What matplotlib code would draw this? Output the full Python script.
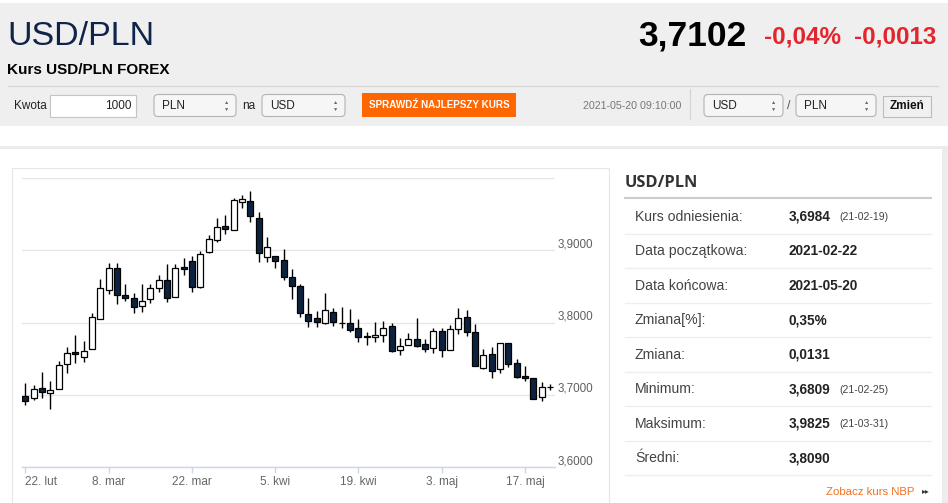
import matplotlib
matplotlib.use("Agg")
import matplotlib.pyplot as plt
import pandas as pd
from matplotlib.patches import Rectangle, FancyBboxPatch

plt.rcParams['font.family'] = ['Liberation Sans', 'DejaVu Sans']

# --- data -------------------------------------------------------------
days = pd.bdate_range('2021-02-22', '2021-05-20')

opens = [3.6983, 3.6951, 3.7089, 3.7024, 3.7084, 3.7421, 3.7587, 3.7518, 3.7637, 3.8053,
         3.8450, 3.8754, 3.8380, 3.8343, 3.8228, 3.8325, 3.8473, 3.8584, 3.8349, 3.8768,
         3.8851, 3.8487, 3.8971, 3.9142, 3.9336, 3.9276, 3.9672, 3.9686, 3.9442, 3.8911,
         3.8920, 3.8865, 3.8634, 3.8501, 3.8113, 3.8058, 3.7989, 3.8150, 3.7998, 3.7998,
         3.7920, 3.7817, 3.7799, 3.7827, 3.7952, 3.7615, 3.7693, 3.7772, 3.7707, 3.7651,
         3.7887, 3.7624, 3.7906, 3.8072, 3.7864, 3.7366, 3.7564, 3.7356, 3.7712, 3.7435,
         3.7264, 3.7228, 3.6965, 3.7108]
highs = [3.7158, 3.7131, 3.7311, 3.7186, 3.7472, 3.7665, 3.7831, 3.7748, 3.8136, 3.8598,
         3.8819, 3.8828, 3.8533, 3.8412, 3.8533, 3.8533, 3.8653, 3.8810, 3.8810, 3.8889,
         3.8920, 3.8990, 3.9207, 3.9446, 3.9488, 3.9719, 3.9765, 3.9825, 3.9534, 3.9179,
         3.8925, 3.9013, 3.8736, 3.8530, 3.8343, 3.8163, 3.8408, 3.8205, 3.8210, 3.8190,
         3.8044, 3.7869, 3.8003, 3.8017, 3.7989, 3.7781, 3.7859, 3.8066, 3.7767, 3.7920,
         3.7920, 3.7965, 3.8197, 3.8173, 3.7979, 3.7629, 3.7665, 3.7720, 3.7720, 3.7495,
         3.7398, 3.7236, 3.7172, 3.7145]
lows = [3.6854, 3.6927, 3.6959, 3.6809, 3.7080, 3.7297, 3.7444, 3.7458, 3.7637, 3.8053,
        3.8390, 3.8252, 3.8302, 3.8136, 3.8150, 3.8265, 3.8427, 3.8288, 3.8349, 3.8657,
        3.8418, 3.8480, 3.8965, 3.9118, 3.9225, 3.9276, 3.9581, 3.9387, 3.8842, 3.8842,
        3.8750, 3.8588, 3.8321, 3.8075, 3.7942, 3.7942, 3.7985, 3.7952, 3.7920, 3.7873,
        3.7726, 3.7689, 3.7734, 3.7734, 3.7596, 3.7550, 3.7690, 3.7657, 3.7596, 3.7582,
        3.7518, 3.7620, 3.7841, 3.7813, 3.7398, 3.7352, 3.7228, 3.7297, 3.7380, 3.7236,
        3.7190, 3.6937, 3.6913, 3.7070]
closes = [3.6909, 3.7084, 3.7034, 3.7062, 3.7408, 3.7582, 3.7560, 3.7601, 3.8072, 3.8473,
          3.8754, 3.8380, 3.8339, 3.8219, 3.8298, 3.8473, 3.8584, 3.8339, 3.8754, 3.8740,
          3.8487, 3.8944, 3.9160, 3.9318, 3.9294, 3.9691, 3.9705, 3.9470, 3.8958, 3.9041,
          3.8851, 3.8634, 3.8509, 3.8127, 3.8025, 3.8003, 3.8177, 3.8003, 3.7989, 3.7896,
          3.7803, 3.7803, 3.7831, 3.7920, 3.7606, 3.7679, 3.7772, 3.7679, 3.7633, 3.7878,
          3.7615, 3.7906, 3.8058, 3.7864, 3.7398, 3.7546, 3.7329, 3.7712, 3.7421, 3.7246,
          3.7228, 3.6945, 3.7111, 3.7102]

tick_dates = ['2021-02-22', '2021-03-08', '2021-03-22', '2021-04-05',
              '2021-04-19', '2021-05-03', '2021-05-17']
tick_labels = ['22. lut', '8. mar', '22. mar', '5. kwi', '19. kwi', '3. maj', '17. maj']
y_ticks = [3.6, 3.7, 3.8, 3.9, 4.0]
y_labels = ['3,6000', '3,7000', '3,8000', '3,9000', '']

row_labels = ['Kurs odniesienia:', 'Data początkowa:', 'Data końcowa:', 'Zmiana[%]:',
              'Zmiana:', 'Minimum:', 'Maksimum:', 'Średni:']
row_values = ['3,6984', '2021-02-22', '2021-05-20', '0,35%', '0,0131',
              '3,6809', '3,9825', '3,8090']
row_notes = ['(21-02-19)', '', '', '', '', '(21-02-25)', '(21-03-31)', '']

DARK = '#0c2340'
NAVY = '#10244a'

fig = plt.figure(figsize=(9.48, 5.03), dpi=100)

# page background, pixel coordinates
bg = fig.add_axes([0, 0, 1, 1])
bg.set_xlim(0, 948)
bg.set_ylim(503, 0)
bg.axis('off')

bg.add_patch(Rectangle((0, 3), 948, 123, facecolor='#efefef', edgecolor='none'))
bg.add_patch(Rectangle((0, 146), 948, 3, facecolor='#ececec', edgecolor='none'))
bg.add_patch(Rectangle((942, 146), 6, 357, facecolor='#ececec', edgecolor='none'))
bg.plot([8, 938], [85.5, 85.5], color='#d6d6d6', lw=0.9)

bg.text(7, 45, 'USD/PLN', fontsize=24.5, color=NAVY, va='baseline')
bg.text(746, 45, '3,7102', fontsize=25.5, fontweight='bold', color='black', va='baseline', ha='right')
bg.text(764, 43.5, '-0,04%', fontsize=17.5, fontweight='bold', color='#e3262d', va='baseline')
bg.text(936, 43.5, '-0,0013', fontsize=17.5, fontweight='bold', color='#e3262d', va='baseline', ha='right')
bg.text(7, 74, 'Kurs USD/PLN FOREX', fontsize=11, fontweight='bold', color='black', va='baseline')

# controls row
bg.text(14, 105.5, 'Kwota', fontsize=8.5, color='#222222', va='center')
bg.add_patch(Rectangle((50.5, 94.5), 86, 22, facecolor='white', edgecolor='#c4c4c4', lw=0.8))
bg.text(132, 105.5, '1000', fontsize=8.5, color='#222222', va='center', ha='right')


def select(x, w, label):
    bg.add_patch(FancyBboxPatch((x, 94.5), w, 22, boxstyle='round,pad=0,rounding_size=4',
                                facecolor='#f6f6f6', edgecolor='#b3b3b3', lw=0.8))
    bg.text(x + 8, 105.5, label, fontsize=8.5, color='#222222', va='center')
    bg.text(x + w - 9, 102, '▲', fontsize=3.8, color='#666666', va='center', ha='center')
    bg.text(x + w - 9, 109, '▼', fontsize=3.8, color='#666666', va='center', ha='center')


select(154, 82, 'PLN')
bg.text(242, 105.5, 'na', fontsize=8.5, color='#222222', va='center')
select(262, 83, 'USD')
bg.add_patch(Rectangle((362, 93), 154, 24, facecolor='#ff6600', edgecolor='none'))
bg.text(439, 105, 'SPRAWDŹ NAJLEPSZY KURS', fontsize=7.1, fontweight='bold', color='white',
        va='center', ha='center')
bg.text(681, 106, '2021-05-20 09:10:00', fontsize=7.7, color='#777777', va='center', ha='right')
bg.plot([690.5, 690.5], [89, 119], color='#d2d2d2', lw=0.8)
select(704, 79, 'USD')
bg.text(789, 105.5, '/', fontsize=9, color='#555555', va='center', ha='center')
select(796, 80, 'PLN')
bg.add_patch(Rectangle((883.5, 95.5), 48, 21, facecolor='#f0f0f0', edgecolor='#bcbcbc', lw=0.8))
bg.text(907.5, 106, 'Zmień', fontsize=8.5, fontweight='bold', color='#111111', va='center', ha='center')

# chart frame
bg.add_patch(Rectangle((12.5, 168), 597, 340, facecolor='none', edgecolor='#e6e6e6', lw=0.8))

# side table
bg.text(625, 187, 'USD/PLN', fontsize=11.8, fontweight='bold', color='#333333', va='baseline',
        family=['Open Sans', 'Liberation Sans'])
bg.plot([625, 931], [198, 198], color='#cccccc', lw=1.5)
for i, (lab, val, note) in enumerate(zip(row_labels, row_values, row_notes)):
    yc = 216.7 + i * 34.5
    bg.text(635, yc, lab, fontsize=10.1, color='#444444', va='center')
    bg.text(789, yc, val, fontsize=9.8, fontweight='bold', color='#222222', va='center')
    if note:
        bg.text(839, yc + 0.5, note, fontsize=7.6, color='#444444', va='center')
    bg.plot([625, 931], [yc + 16.8, yc + 16.8], color='#eeeeee', lw=0.9)
bg.text(826, 491.7, 'Zobacz kurs NBP', fontsize=8.2, color='#f36f21', va='center')
bg.text(922, 492, '▸▸', fontsize=5.5, color='#333333', va='center')

# candlestick chart
ax = fig.add_axes([22 / 948, (503 - 467) / 503, 533 / 948, 289 / 503])
ax.set_facecolor('none')
xs = list(range(len(days)))
bottoms = [min(o, c) for o, c in zip(opens, closes)]
heights = [abs(c - o) for o, c in zip(opens, closes)]
fills = ['white' if c >= o else DARK for o, c in zip(opens, closes)]
ax.vlines(xs, lows, highs, color='black', lw=1, zorder=2)
ax.bar(xs, heights, bottom=bottoms, width=0.72, color=fills, edgecolor='black', lw=0.9, zorder=3)

ax.set_xlim(-0.4, 63.6)
ax.set_ylim(3.6, 4.0)
day_list = [d.strftime('%Y-%m-%d') for d in days]
ax.set_xticks([day_list.index(d) for d in tick_dates], tick_labels)
ax.set_yticks(y_ticks, y_labels)
ax.yaxis.tick_right()
ax.tick_params(axis='y', length=0, pad=2.2, labelsize=8.4, labelcolor='#606060')
for lab in ax.get_yticklabels():
    lab.set_verticalalignment('bottom')
ax.tick_params(axis='x', length=4.3, width=1, color='#ccd6eb', pad=2.5,
               labelsize=8.5, labelcolor='#666666')
ax.get_xticklabels()[0].set_horizontalalignment('left')
ax.yaxis.grid(True, color='#e6e6e6', lw=1)
ax.set_axisbelow(True)
for s in ['top', 'left', 'right']:
    ax.spines[s].set_visible(False)
ax.spines['bottom'].set_color('#ccd6eb')
ax.spines['bottom'].set_linewidth(1)

fig.savefig('out.png', dpi=100)
